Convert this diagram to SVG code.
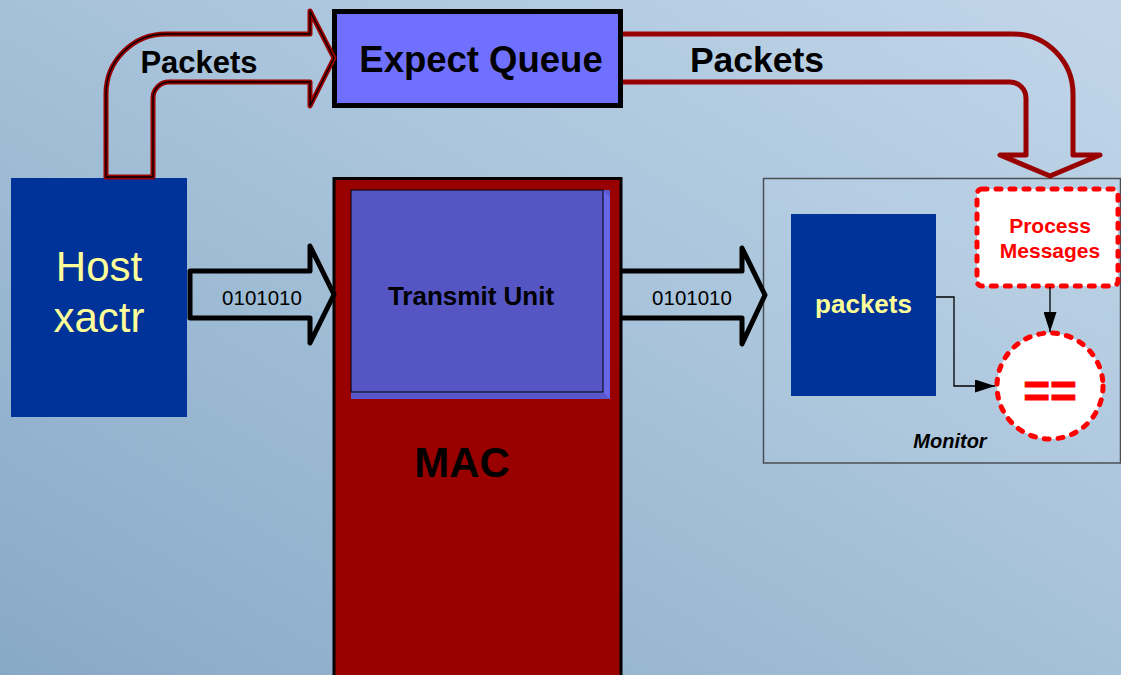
<svg xmlns="http://www.w3.org/2000/svg" width="1121" height="675" viewBox="0 0 1121 675">
  <defs>
    <linearGradient id="bg" x1="0" y1="1" x2="1" y2="0">
      <stop offset="0" stop-color="#88a9c6"/>
      <stop offset="0.5" stop-color="#a5c1d9"/>
      <stop offset="1" stop-color="#c2d6e9"/>
    </linearGradient>
    <marker id="arr" viewBox="0 0 20 13" refX="20" refY="6.5" markerWidth="20" markerHeight="13" markerUnits="userSpaceOnUse" orient="auto">
      <path d="M0,0 L20,6.5 L0,13 Z" fill="#000"/>
    </marker>
    <style>
      .bold { font-family: "Liberation Sans", Arial, sans-serif; font-weight: bold; }
      .reg { font-family: "Liberation Sans", Arial, sans-serif; }
      .blk-arrow { fill: none; stroke: #000; stroke-width: 5; stroke-linejoin: round; }
      .dash { fill: #fff; stroke: #ff0000; stroke-width: 5; stroke-dasharray: 5 9; stroke-linecap: round; }
      .conn { fill: none; stroke: #000; stroke-width: 1.3; }
    </style>
  </defs>

  <rect width="1121" height="675" fill="url(#bg)"/>

  <g id="host">
    <rect x="11" y="178" width="176" height="239" fill="#003399"/>
    <text class="reg" x="99" y="281" font-size="42" fill="#ffff99" text-anchor="middle">Host</text>
    <text class="reg" x="99" y="332" font-size="42" fill="#ffff99" text-anchor="middle">xactr</text>
  </g>

  <g id="expect-queue">
    <rect x="334.5" y="11.5" width="286" height="94" fill="#7070ff" stroke="#000" stroke-width="5"/>
    <text class="bold" x="481" y="72" font-size="36.5" fill="#000" text-anchor="middle">Expect Queue</text>
  </g>

  <g id="mac">
    <rect x="334" y="178.5" width="287" height="510" fill="#990000" stroke="#000" stroke-width="3"/>
    <text class="bold" x="462" y="477" font-size="42" fill="#000" text-anchor="middle">MAC</text>
  </g>

  <g id="transmit-unit">
    <rect x="351" y="190" width="259" height="209" fill="#5858cc"/>
    <path d="M603,190 L610,197 L610,399 L603,392 Z" fill="#6666e6"/>
    <rect x="351" y="190" width="252" height="202" fill="#5555c4" stroke="#000" stroke-width="1"/>
    <text class="bold" x="471" y="305" font-size="26" fill="#000" text-anchor="middle">Transmit Unit</text>
  </g>

  <g id="monitor">
    <rect x="763.5" y="178.5" width="357" height="284.5" fill="#ffffff" fill-opacity="0.04" stroke="#4a4f55" stroke-width="1.5"/>
    <text class="bold" x="950" y="448" font-size="20" font-style="italic" fill="#000" text-anchor="middle">Monitor</text>
  </g>

  <g id="packets">
    <rect x="791" y="214" width="145" height="182" fill="#003399"/>
    <text class="bold" x="863.5" y="313" font-size="26" fill="#ffff99" text-anchor="middle">packets</text>
  </g>

  <g id="process-messages">
    <rect class="dash" x="977" y="189" width="141" height="97" rx="5"/>
    <text class="bold" x="1050" y="233" font-size="21" fill="#ff0000" text-anchor="middle">Process</text>
    <text class="bold" x="1050" y="258" font-size="21" fill="#ff0000" text-anchor="middle">Messages</text>
  </g>

  <g id="compare">
    <circle class="dash" cx="1050" cy="386" r="53"/>
    <text class="bold" x="1050" y="407" font-size="46" fill="#ff0000" stroke="#ff0000" stroke-width="0.8" text-anchor="middle">==</text>
  </g>

  <g id="connectors">
    <path d="M106,177 L106,94 A60,60 0 0 1 166,34 L310,34 L310,11 L334,58 L310,106 L310,82 L169,82 A16,16 0 0 0 153,98 L153,177 Z" fill="none" stroke="#990000" stroke-width="5" stroke-linejoin="round"/>
    <path d="M106,177 L106,94 A60,60 0 0 1 166,34 L310,34 L310,11 L334,58 L310,106 L310,82 L169,82 A16,16 0 0 0 153,98 L153,177 Z" fill="none" stroke="#000" stroke-width="1.3" stroke-linejoin="round"/>
    <text class="bold" x="199" y="73" font-size="31" fill="#000" text-anchor="middle">Packets</text>

    <path d="M623,34 L1013,34 A60,60 0 0 1 1073,94 L1073,155 L1100,155 L1050,176 L1000,155 L1026,155 L1026,98 A16,16 0 0 0 1010,82 L623,82" fill="none" stroke="#990000" stroke-width="5" stroke-linejoin="round"/>
    <text class="bold" x="757" y="72" font-size="35.5" fill="#000" text-anchor="middle">Packets</text>

    <path class="blk-arrow" d="M190,271 L310,271 L310,246 L334,294.5 L310,343 L310,318 L190,318 Z"/>
    <text class="reg" x="262" y="305" font-size="20.5" fill="#000" text-anchor="middle">0101010</text>

    <path class="blk-arrow" d="M621,271 L742,271 L742,248 L765,295 L742,344 L742,318 L621,318"/>
    <text class="reg" x="692" y="305" font-size="20.5" fill="#000" text-anchor="middle">0101010</text>

    <path class="conn" d="M936,297 H954 V386 H995" marker-end="url(#arr)"/>
    <path class="conn" d="M1050,287 V332" marker-end="url(#arr)"/>
  </g>
</svg>
